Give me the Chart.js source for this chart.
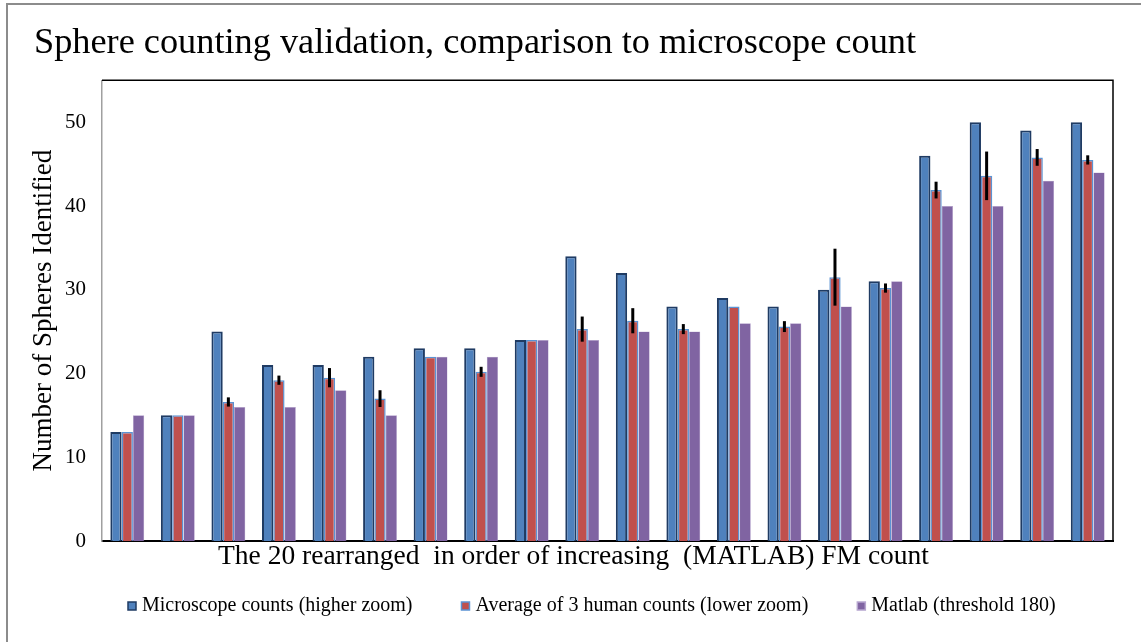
<!DOCTYPE html>
<html>
<head>
<meta charset="utf-8">
<title>Sphere counting validation</title>
<script src="https://cdn.jsdelivr.net/npm/chart.js@4"></script>
<style>
html, body { margin: 0; padding: 0; background: #fff; }
#wrap { position: relative; width: 1141px; height: 642px; overflow: hidden; }
#frame { position: absolute; left: 6px; top: 3px; width: 1200px; height: 700px; border: 2px solid #8c8c8c; }
#chart { position: absolute; left: 0; top: 0; }
</style>
</head>
<body>
<div id="wrap">
  <div id="frame"></div>
  <canvas id="chart" width="1141" height="642"></canvas>
</div>
<script>
// 20 samples, ordered by increasing MATLAB count
const groups = ['1', '2', '3', '4', '5', '6', '7', '8', '9', '10',
  '11', '12', '13', '14', '15', '16', '17', '18', '19', '20'];
const microscope = [13, 15, 25, 21, 21, 22, 23, 23, 24, 34, 32, 28, 29, 28, 30, 31, 46, 50, 49, 50];
const humanAvg = [13, 15, 16.6, 19.2, 19.5, 17, 22, 20.2, 24, 25.3, 26.3, 25.3, 28, 25.6, 31.5, 30.2, 41.9, 43.6, 45.8, 45.5];
const humanErr = [0, 0, 0.55, 0.55, 1.15, 1, 0, 0.6, 0, 1.5, 1.5, 0.6, 0, 0.65, 3.4, 0.55, 1, 2.9, 1, 0.55];
const matlab = [15, 15, 16, 16, 18, 15, 22, 22, 24, 24, 25, 25, 26, 26, 28, 31, 40, 40, 43, 44];
const yTicks = [0, 10, 20, 30, 40, 50];

const serif = '"Liberation Serif", "Times New Roman", serif';

// black error bars on the human-average series
const errorBars = {
  id: 'errorBars',
  afterDatasetsDraw(chart) {
    const meta = chart.getDatasetMeta(1);
    const y = chart.scales.y;
    const ctx = chart.ctx;
    ctx.save();
    ctx.strokeStyle = '#000';
    ctx.lineWidth = 3;
    meta.data.forEach((bar, i) => {
      const e = humanErr[i];
      if (!e) return;
      ctx.beginPath();
      ctx.moveTo(bar.x, y.getPixelForValue(humanAvg[i] + e));
      ctx.lineTo(bar.x, y.getPixelForValue(humanAvg[i] - e));
      ctx.stroke();
    });
    ctx.restore();
  }
};

// plot area box (top + right edges)
const plotBox = {
  id: 'plotBox',
  beforeDatasetsDraw(chart) {
    const a = chart.chartArea;
    const ctx = chart.ctx;
    ctx.save();
    ctx.strokeStyle = '#000';
    ctx.lineWidth = 1.5;
    ctx.beginPath();
    ctx.moveTo(a.left, a.top);
    ctx.lineTo(a.right, a.top);
    ctx.lineTo(a.right, a.bottom);
    ctx.stroke();
    ctx.restore();
  }
};

// legend row under the axis title, like the original (small squares, wide gaps)
const bottomLegend = {
  id: 'bottomLegend',
  afterDraw(chart) {
    const ctx = chart.ctx;
    const a = chart.chartArea;
    const y = 606;
    let x = a.left + 26;
    ctx.save();
    ctx.font = '20px ' + serif;
    ctx.textBaseline = 'middle';
    ctx.textAlign = 'left';
    chart.data.datasets.forEach(ds => {
      ctx.fillStyle = ds.backgroundColor;
      ctx.fillRect(x, y - 4, 8, 8);
      ctx.strokeStyle = ds.borderColor;
      ctx.lineWidth = 1.5;
      ctx.strokeRect(x, y - 4, 8, 8);
      ctx.fillStyle = '#000';
      ctx.fillText(ds.label, x + 14, y);
      x += 14 + ctx.measureText(ds.label).width + 49;
    });
    ctx.restore();
  }
};

new Chart(document.getElementById('chart'), {
  type: 'bar',
  data: {
    labels: groups,
    datasets: [{
      label: 'Microscope counts (higher zoom)',
      data: microscope,
      backgroundColor: '#4f81bd',
      borderColor: '#1f3b63',
      borderWidth: 2,
      borderSkipped: 'bottom'
    }, {
      label: 'Average of 3 human counts (lower zoom)',
      data: humanAvg,
      backgroundColor: '#c0504d',
      borderColor: '#5b93d3',
      borderWidth: 1.5,
      borderSkipped: 'bottom'
    }, {
      label: 'Matlab (threshold 180)',
      data: matlab,
      backgroundColor: '#8064a2',
      borderColor: '#b7a6cf',
      borderWidth: 0.5,
      borderSkipped: 'bottom'
    }]
  },
  options: {
    responsive: false,
    animation: false,
    layout: { padding: { left: 34, right: 28, top: 6, bottom: 68 } },
    datasets: {
      bar: { barPercentage: 1, categoryPercentage: 0.67 }
    },
    scales: {
      x: {
        grid: { display: false, drawTicks: false },
        border: { display: true, color: '#000', width: 2 },
        ticks: { display: false }
      },
      y: {
        min: 0,
        max: 55,
        afterBuildTicks(scale) {
          scale.ticks = yTicks.map(v => ({ value: v }));
        },
        afterFit(scale) {
          scale.width = 68;
        },
        grid: { display: false, drawTicks: false },
        border: { display: true, color: '#a0a0a0', width: 1.5 },
        ticks: {
          color: '#000',
          font: { family: serif, size: 21 },
          padding: 16
        },
        title: {
          display: true,
          text: 'Number of Spheres Identified',
          color: '#000',
          font: { family: serif, size: 27, lineHeight: 1 },
          padding: { top: -4, bottom: 8 }
        }
      }
    },
    plugins: {
      title: {
        display: true,
        text: 'Sphere counting validation, comparison to microscope count',
        align: 'start',
        color: '#000',
        font: { family: serif, size: 36.3, weight: 'normal', lineHeight: 1.2 },
        padding: { top: 16, bottom: 14.8 }
      },
      // x-axis caption: centred on the whole figure, as in the original
      subtitle: {
        display: true,
        position: 'bottom',
        text: 'The 20 rearranged  in order of increasing  (MATLAB) FM count',
        color: '#000',
        font: { family: serif, size: 27.5, weight: 'normal', lineHeight: 1.2 },
        padding: { top: -1, bottom: 1 }
      },
      legend: { display: false },
      tooltip: { enabled: false }
    }
  },
  plugins: [plotBox, errorBars, bottomLegend]
});
</script>
</body>
</html>
